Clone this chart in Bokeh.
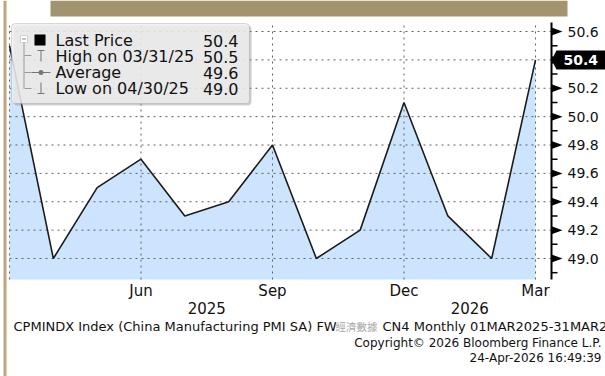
from bokeh.plotting import figure
from bokeh.models import Range1d, Label, BoxAnnotation, ColumnDataSource
from bokeh.core.properties import value
from bokeh.embed import file_html
from bokeh.resources import INLINE

# ---------------- data ----------------
months = ["Mar", "Apr", "May", "Jun", "Jul", "Aug", "Sep", "Oct", "Nov", "Dec", "Jan", "Feb", "Mar"]
dates = ["03/31/25", "04/30/25", "05/31/25", "06/30/25", "07/31/25", "08/31/25", "09/30/25",
         "10/31/25", "11/30/25", "12/31/25", "01/31/26", "02/28/26", "03/31/26"]
values = [50.5, 49.0, 49.5, 49.7, 49.3, 49.4, 49.8, 49.0, 49.2, 50.1, 49.3, 49.0, 50.4]
month_tick_idx = [3, 6, 9, 12]
grid_tick_idx = [0, 3, 6, 9, 12]
years = ["2025", "2026"]
year_pos = [4.5, 10.5]
y_major = [49.0, 49.2, 49.4, 49.6, 49.8, 50.0, 50.2, 50.4, 50.6]
y_minor = [48.9, 49.1, 49.3, 49.5, 49.7, 49.9, 50.1, 50.3, 50.5]
footer1a = "CPMINDX Index (China Manufacturing PMI SA) FW"
footer1b = "經濟數據"
footer1c = "CN4 Monthly 01MAR2025-31MAR2026"
footer2 = "Copyright\u00a9 2026 Bloomberg Finance L.P."
footer3 = "24-Apr-2026 16:49:39"

# ---------------- layout (pixels) ----------------
W, H = 605, 376
FONT = "DejaVu Sans"
X_FIRST, X_LAST = 9, 535          # pixel x of first / last month
PXM = (X_LAST - X_FIRST) / 12.0   # pixels per month
Y_TOP_TICK, Y_BOT_TICK = 31, 258  # pixel y of 50.6 / 49.0
PYU = (Y_BOT_TICK - Y_TOP_TICK) / (y_major[-1] - y_major[0])
AXIS_X = 551
PLOT_TOP, PLOT_BOT = 22, 279

def dx(X):
    return (X - X_FIRST) / PXM

def dy(Y):
    return y_major[-1] - (Y - Y_TOP_TICK) / PYU

def sy(Y):  # screen-unit y (bottom origin)
    return H - Y

base = dy(PLOT_BOT)
top = dy(PLOT_TOP)
ax = dx(AXIS_X)

p = figure(width=W, height=H, x_range=Range1d(dx(0), dx(W)), y_range=Range1d(dy(H), dy(0)),
           x_axis_location=None, y_axis_location=None, output_backend="svg",
           toolbar_location=None, min_border=0)
p.background_fill_color = "white"
p.border_fill_color = "white"
p.outline_line_color = None
for g in p.grid:
    g.visible = False

xs = list(range(len(values)))
src = ColumnDataSource(dict(x=xs, y=values, base=[base] * len(values)))
p.varea(x="x", y1="base", y2="y", source=src, fill_color="#cce4fd")

# grid (dotted)
vx = [[float(i), float(i)] for i in grid_tick_idx]
vy = [[base, top] for i in grid_tick_idx]
hx = [[0.0, ax] for v in y_major]
hy = [[v, v] for v in y_major]
p.multi_line(xs=vx + hx, ys=vy + hy, line_color="#606060", line_dash="dotted", line_width=1)

p.line(x="x", y="y", source=src, line_color="#1c1c1c", line_width=1.6)

# right axis
p.segment(x0=[ax], x1=[ax], y0=[base], y1=[top], line_color="black", line_width=2)
p.segment(x0=[ax] * len(y_minor), x1=[ax + 6 / PXM] * len(y_minor), y0=y_minor, y1=y_minor,
          line_color="black", line_width=1.5)
th = 4 / PYU
p.patches(xs=[[ax, ax, ax + 11 / PXM] for v in y_major],
          ys=[[v - th, v + th, v] for v in y_major],
          fill_color="black", line_color=None)
last = values[-1]
lab_vals = [v for v in y_major if abs(v - last) > 1e-9]
p.text(x=[ax + 16 / PXM] * len(lab_vals), y=lab_vals, text=["%.1f" % v for v in lab_vals],
       text_font=value(FONT), text_font_size="14px", text_color="#111111",
       text_baseline="middle", text_align="left")
hh = 9.5 / PYU
p.patch(x=[ax, ax + 5 / PXM, dx(W), dx(W), ax + 5 / PXM],
        y=[last, last + hh, last + hh, last - hh, last - hh],
        fill_color="black", line_color=None)
p.text(x=[ax + 12 / PXM], y=[last], text=["%.1f" % last], text_font=value(FONT),
       text_font_size="14px", text_font_style="bold", text_color="white",
       text_baseline="middle", text_align="left")

# bottom axis labels
p.text(x=month_tick_idx, y=[dy(290)] * len(month_tick_idx),
       text=[months[i] for i in month_tick_idx], text_font=value(FONT),
       text_font_size="15px", text_color="#111111", text_baseline="middle", text_align="center")
p.text(x=year_pos, y=[dy(307)] * len(year_pos), text=years, text_font=value(FONT),
       text_font_size="15px", text_color="#111111", text_baseline="middle", text_align="center")

# decorations
def box(l, r, t, b, **kw):
    p.add_layout(BoxAnnotation(left=l, right=r, top=sy(t), bottom=sy(b),
                               left_units="screen", right_units="screen",
                               top_units="screen", bottom_units="screen", **kw))

box(50, 567, 0, 16, fill_color="#a39470", fill_alpha=1, line_color=None)
box(3, 6, 0, H, fill_color="#c2a47f", fill_alpha=1, line_color=None)

# legend
box(13, 251, 25, 105, fill_color="#909090", fill_alpha=0.45, line_color=None, border_radius=4)
box(11, 249, 23, 103, fill_color="#efefef", fill_alpha=0.82, line_color="#8a8a8a",
    line_width=1, border_radius=4)
box(20, 27, 35, 42, fill_color="white", fill_alpha=1, line_color="#888888", line_width=1)
box(21.5, 25.5, 38, 39, fill_color="#888888", fill_alpha=1, line_color=None)
box(23, 24, 42, 88, fill_color="#999999", fill_alpha=1, line_color=None)
for yy in (55, 72, 88):
    box(24, 31, yy - 0.5, yy + 0.5, fill_color="#999999", fill_alpha=1, line_color=None)
box(34, 45, 34, 45, fill_color="black", fill_alpha=1, line_color=None)
box(37, 44, 49.5, 50.5, fill_color="#777777", fill_alpha=1, line_color=None)
box(40, 41, 50, 61, fill_color="#777777", fill_alpha=1, line_color=None)
box(31, 50, 71.5, 72.5, fill_color="#777777", fill_alpha=1, line_color=None)
box(38, 43, 69.5, 74.5, fill_color="#777777", fill_alpha=1, line_color=None, border_radius=3)
box(40, 41, 82, 93, fill_color="#777777", fill_alpha=1, line_color=None)
box(37, 44, 92.5, 93.5, fill_color="#777777", fill_alpha=1, line_color=None)

imax = values.index(max(values))
imin = values.index(min(values))
avg = sum(values) / len(values)
rows = [("Last Price", values[-1]), ("High on " + dates[imax], values[imax]),
        ("Average", avg), ("Low on " + dates[imin], values[imin])]
row_y = [40, 56, 72, 88]

def lab(x, Y, t, align="left", color="#111111", font=FONT, size="16px", style="normal"):
    p.add_layout(Label(x=x, y=sy(Y), x_units="screen", y_units="screen", text=t,
                       text_font=font, text_font_size=size, text_color=color,
                       text_font_style=style, text_baseline="middle", text_align=align))

for (name, val), yy in zip(rows, row_y):
    lab(55, yy, name)
    lab(238, yy, "%.1f" % val, align="right")

# footer
lab(13, 326, footer1a, size="13px")
lab(335, 326, footer1b, color="#a8a8a8", font="Noto Sans CJK TC", size="10.5px")
lab(382, 326, footer1c, size="13px")
lab(601, 342, footer2, align="right", size="12px")
lab(601, 357, footer3, align="right", size="12px")

open("out.html", "w").write(file_html(p, INLINE))
